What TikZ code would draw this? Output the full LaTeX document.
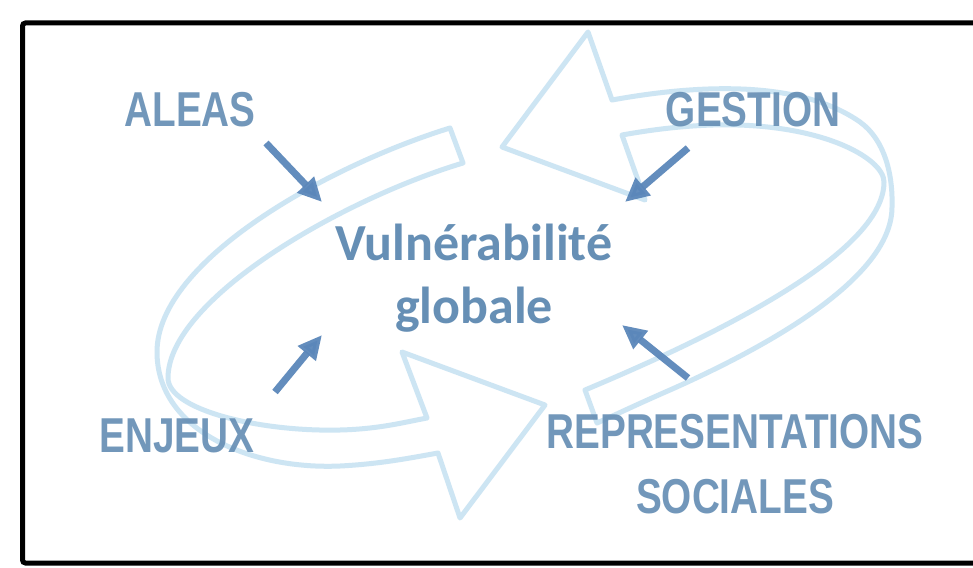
\documentclass[tikz,border=0pt]{standalone}
\usepackage{fontspec}
\setmainfont{Carlito}
\newfontfamily\narrowfont[FakeStretch=0.79]{Liberation Sans}
\usetikzlibrary{arrows.meta}
\definecolor{ribbon}{RGB}{205,229,243}
\definecolor{darkarrow}{RGB}{91,135,186}
\definecolor{textblue}{RGB}{102,143,181}
\tikzset{
  rib/.style={draw=ribbon, line width=5pt, line join=round},
  lbl/.style={text=textblue, inner sep=0pt, font=\narrowfont\bfseries\fontsize{49}{55}\selectfont, text opacity=0.92},
  vul/.style={text=textblue, inner sep=0pt, font=\bfseries\fontsize{52}{60}\selectfont},
  inarrow/.style={draw=darkarrow, line width=7pt, -{Triangle[length=24pt,width=22pt]}, draw opacity=0.95, fill opacity=0.95}
}
\begin{document}
\begin{tikzpicture}[x=1pt,y=-1pt]
\useasboundingbox (0,0) rectangle (973,567);
\clip (0,0) rectangle (973,567);
\fill[white] (0,0) rectangle (973,567);
\draw[line width=5pt, rounded corners=3pt] (22.5,23) rectangle (1000,563);
% lower-left ribbon arrow
\draw[rib] (450,128) -- (463,163)
  .. controls (340,200) and (168,300) .. (168,378)
  .. controls (168,410) and (260,432) .. (340,430)
  .. controls (380,429) and (405,422) .. (427,418)
  -- (402,352) -- (545,405) -- (460,518) -- (438,453)
  .. controls (410,458) and (380,464) .. (340,466)
  .. controls (250,470) and (157,430) .. (157,352)
  .. controls (157,260) and (330,165) .. (450,128) -- cycle;
% upper-right ribbon arrow
\draw[rib] (502,147) -- (588,32) -- (612,100)
  .. controls (700,84) and (800,80) .. (860,122)
  .. controls (885,140) and (893,175) .. (892,207)
  .. controls (892,280) and (760,350) .. (670,390)
  .. controls (640,403) and (615,415) .. (597,423)
  -- (585,390)
  .. controls (680,350) and (884,260) .. (884,182)
  .. controls (884,158) and (820,122) .. (713,125)
  .. controls (680,126) and (650,130) .. (622,135)
  -- (645,200) -- cycle;
% labels
\node[lbl] (aleas) at (190,110) {ALEAS};
\node[lbl] (gestion) at (753,110) {GESTION};
\node[lbl] (enjeux) at (177,436) {ENJEUX};
\node[lbl] (repr) at (735,432) {REPRESENTATIONS};
\node[lbl] (soc) at (735,497) {SOCIALES};
\node[vul, anchor=base] (v1) at (474,260) {Vulnérabilité};
\node[vul, anchor=base] (v2) at (474,323) {globale};
% arrows
\coordinate (a0) at (266,143); \coordinate (a1) at (322,202);
\coordinate (g0) at (688,148); \coordinate (g1) at (625,202);
\coordinate (e0) at (275,392); \coordinate (e1) at (322,335);
\coordinate (r0) at (688,378); \coordinate (r1) at (622,325);
\draw[inarrow] (a0) -- (a1);
\draw[inarrow] (g0) -- (g1);
\draw[inarrow] (e0) -- (e1);
\draw[inarrow] (r0) -- (r1);
\end{tikzpicture}
\end{document}
